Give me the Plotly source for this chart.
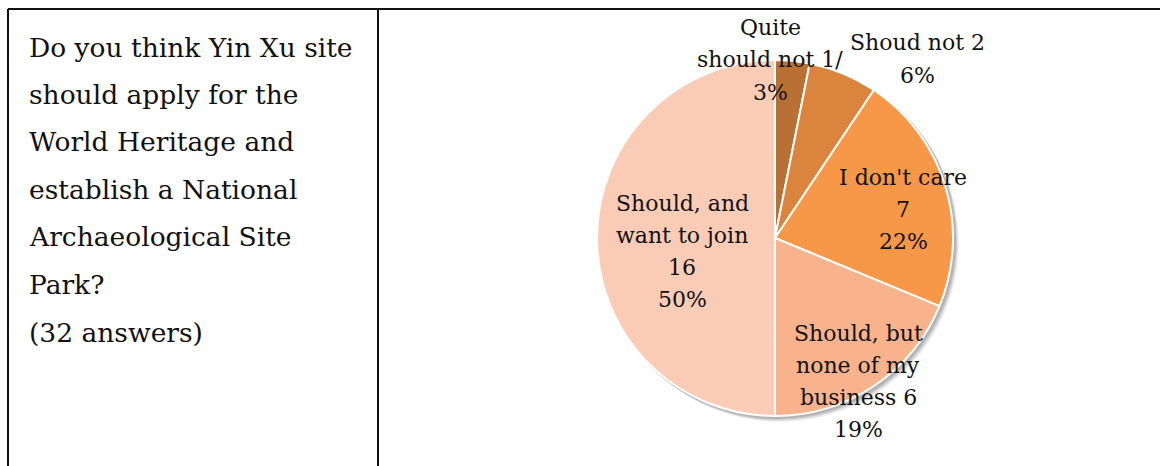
import plotly.graph_objects as go

# Survey answers (32 respondents)
labels = ["Quite<br>should not", "Shoud not", "I don't care",
          "Should, but<br>none of my<br>business", "Should, and<br>want to join"]
counts = [1, 2, 7, 6, 16]
colors = ["#B87034", "#DB843E", "#F69848", "#F8B38D", "#FACCB6"]
question_lines = ["Do you think Yin Xu site", "should apply for the",
                  "World Heritage and", "establish a National",
                  "Archaeological Site", "Park?", "(32 answers)"]

W, H = 1160, 466
cx, cy, r = 775, 238, 178  # pie centre / radius in pixels

fig = go.Figure()
fig.add_trace(go.Pie(
    labels=[l.replace("<br>", " ") for l in labels],
    values=counts,
    sort=False,
    direction="clockwise",
    rotation=0,
    marker=dict(colors=colors, line=dict(color="white", width=2)),
    textinfo="none",
    hoverinfo="label+value+percent",
    showlegend=False,
    domain=dict(x=[(cx - r) / W, (cx + r) / W],
                y=[(H - cy - r) / H, (H - cy + r) / H]),
))

# soft drop shadow behind the pie
for off, op in [(5, 0.05), (4, 0.07), (3, 0.09), (2, 0.11)]:
    fig.add_shape(type="circle", xref="paper", yref="paper", layer="below",
                  x0=(cx - r + off - 1) / W, x1=(cx + r + off + 1) / W,
                  y0=(H - cy - r - off - 1) / H, y1=(H - cy + r - off + 1) / H,
                  line=dict(width=0), fillcolor=f"rgba(0,0,0,{op})")

total = sum(counts)
pct = [round(100 * c / total) for c in counts]
label_text = [
    f"Quite<br>should not {counts[0]}/<br>{pct[0]}%",
    f"Shoud not {counts[1]}<br>{pct[1]}%",
    f"I don't care<br>{counts[2]}<br>{pct[2]}%",
    f"Should, but<br>none of my<br>business {counts[3]}<br>{pct[3]}%",
    f"Should, and<br>want to join<br>{counts[4]}<br>{pct[4]}%",
]
# x centre and first-line y of each label block, in pixels
label_pos = [(770, 28), (917, 43), (903, 177), (858, 333), (682, 203)]
serif = "DejaVu Serif"
label_step = 32
for txt, (px, py) in zip(label_text, label_pos):
    for j, line in enumerate(txt.split("<br>")):
        fig.add_annotation(x=px / W, y=1 - (py + j * label_step) / H,
                           xref="paper", yref="paper", text=line,
                           showarrow=False, xanchor="center", yanchor="middle",
                           font=dict(family=serif, size=22, color="#111111"))

# question text in the left cell
for i, line in enumerate(question_lines):
    fig.add_annotation(x=27 / W, y=1 - (47 + i * 47.5) / H, xref="paper",
                       yref="paper", text=line, showarrow=False,
                       xanchor="left", yanchor="middle",
                       font=dict(family=serif, size=26.5, color="#111111"))

# table borders
border = dict(color="#111111", width=2)
fig.add_shape(type="line", xref="paper", yref="paper", x0=8 / W, x1=1,
              y0=1 - 9 / H, y1=1 - 9 / H, line=border)
fig.add_shape(type="line", xref="paper", yref="paper", x0=8 / W, x1=8 / W,
              y0=0, y1=1 - 9 / H, line=border)
fig.add_shape(type="line", xref="paper", yref="paper", x0=378 / W, x1=378 / W,
              y0=0, y1=1 - 9 / H, line=border)

fig.update_layout(width=W, height=H, margin=dict(l=0, r=0, t=0, b=0),
                  paper_bgcolor="white", plot_bgcolor="white")
fig.write_html("out.html")
